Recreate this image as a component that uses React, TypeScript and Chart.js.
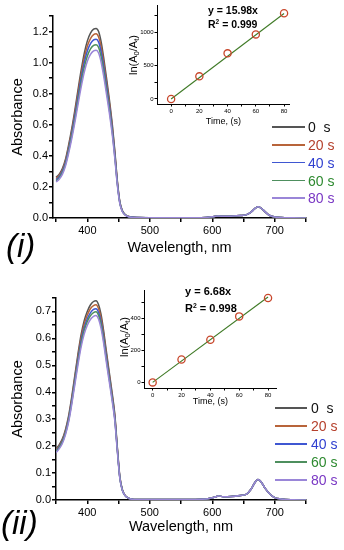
import { useEffect, useRef } from 'react';
import { Chart, registerables } from 'chart.js';

Chart.register(...registerables);

const FONT = '"Liberation Sans", Arial, Helvetica, sans-serif';
Chart.defaults.font.family = FONT;

// ---------- Spectra data ----------
const wavelength = [350, 355, 360, 365, 370, 375, 380, 385, 390, 395, 400, 405, 410, 414, 418, 422, 426, 430, 435, 440, 444, 448, 452, 456, 460, 465, 470, 480, 500, 550, 590, 603, 610, 618, 630, 645, 655, 662, 668, 673, 678, 685, 692, 700, 710, 730, 750];

const absI_0 = [0.262, 0.282, 0.318, 0.378, 0.47, 0.575, 0.695, 0.825, 0.95, 1.06, 1.14, 1.19, 1.215, 1.22, 1.2, 1.135, 1.035, 0.92, 0.77, 0.6, 0.43, 0.24, 0.105, 0.048, 0.024, 0.011, 0.006, 0.003, 0.002, 0.002, 0.004, 0.01, 0.013, 0.011, 0.012, 0.016, 0.022, 0.038, 0.06, 0.072, 0.064, 0.038, 0.016, 0.007, 0.003, 0.001, 0.0];
const absI_20 = [0.254, 0.274, 0.309, 0.367, 0.456, 0.558, 0.675, 0.801, 0.922, 1.029, 1.107, 1.155, 1.18, 1.185, 1.165, 1.102, 1.005, 0.893, 0.748, 0.583, 0.418, 0.233, 0.102, 0.047, 0.023, 0.011, 0.006, 0.003, 0.002, 0.002, 0.004, 0.01, 0.013, 0.011, 0.012, 0.016, 0.022, 0.038, 0.06, 0.072, 0.064, 0.038, 0.016, 0.007, 0.003, 0.001, 0.0];
const absI_40 = [0.247, 0.266, 0.3, 0.356, 0.443, 0.542, 0.655, 0.778, 0.896, 1.0, 1.075, 1.122, 1.146, 1.15, 1.132, 1.07, 0.976, 0.868, 0.726, 0.566, 0.405, 0.226, 0.099, 0.045, 0.023, 0.01, 0.006, 0.003, 0.002, 0.002, 0.004, 0.01, 0.013, 0.011, 0.012, 0.016, 0.022, 0.038, 0.06, 0.072, 0.064, 0.038, 0.016, 0.007, 0.003, 0.001, 0.0];
const absI_60 = [0.239, 0.258, 0.291, 0.345, 0.43, 0.526, 0.635, 0.754, 0.868, 0.969, 1.042, 1.088, 1.111, 1.115, 1.097, 1.037, 0.946, 0.841, 0.704, 0.548, 0.393, 0.219, 0.096, 0.044, 0.022, 0.01, 0.005, 0.003, 0.002, 0.002, 0.004, 0.01, 0.013, 0.011, 0.012, 0.016, 0.022, 0.038, 0.06, 0.072, 0.064, 0.038, 0.016, 0.007, 0.003, 0.001, 0.0];
const absI_80 = [0.232, 0.25, 0.281, 0.335, 0.416, 0.509, 0.615, 0.73, 0.841, 0.938, 1.009, 1.053, 1.075, 1.08, 1.062, 1.004, 0.916, 0.814, 0.681, 0.531, 0.381, 0.212, 0.093, 0.042, 0.021, 0.01, 0.005, 0.003, 0.002, 0.002, 0.004, 0.01, 0.013, 0.011, 0.012, 0.016, 0.022, 0.038, 0.06, 0.072, 0.064, 0.038, 0.016, 0.007, 0.003, 0.001, 0.0];

const absII_0 = [0.19, 0.205, 0.226, 0.26, 0.31, 0.38, 0.46, 0.54, 0.612, 0.665, 0.7, 0.724, 0.737, 0.74, 0.726, 0.69, 0.632, 0.562, 0.478, 0.395, 0.32, 0.2, 0.09, 0.04, 0.019, 0.008, 0.004, 0.002, 0.002, 0.002, 0.004, 0.01, 0.015, 0.012, 0.013, 0.017, 0.022, 0.04, 0.064, 0.076, 0.068, 0.042, 0.022, 0.009, 0.004, 0.001, 0.0];
const absII_20 = [0.186, 0.201, 0.221, 0.255, 0.304, 0.372, 0.451, 0.529, 0.6, 0.652, 0.686, 0.71, 0.722, 0.725, 0.711, 0.676, 0.619, 0.551, 0.468, 0.387, 0.314, 0.196, 0.088, 0.039, 0.019, 0.008, 0.004, 0.002, 0.002, 0.002, 0.004, 0.01, 0.015, 0.012, 0.013, 0.017, 0.022, 0.04, 0.064, 0.076, 0.068, 0.042, 0.022, 0.009, 0.004, 0.001, 0.0];
const absII_40 = [0.182, 0.197, 0.217, 0.25, 0.298, 0.365, 0.442, 0.518, 0.588, 0.638, 0.672, 0.695, 0.708, 0.71, 0.697, 0.662, 0.607, 0.54, 0.459, 0.379, 0.307, 0.192, 0.086, 0.038, 0.018, 0.008, 0.004, 0.002, 0.002, 0.002, 0.004, 0.01, 0.015, 0.012, 0.013, 0.017, 0.022, 0.04, 0.064, 0.076, 0.068, 0.042, 0.022, 0.009, 0.004, 0.001, 0.0];
const absII_60 = [0.18, 0.194, 0.214, 0.246, 0.293, 0.359, 0.435, 0.51, 0.578, 0.628, 0.662, 0.684, 0.696, 0.699, 0.686, 0.652, 0.597, 0.531, 0.452, 0.373, 0.302, 0.189, 0.085, 0.038, 0.018, 0.008, 0.004, 0.002, 0.002, 0.002, 0.004, 0.01, 0.015, 0.012, 0.013, 0.017, 0.022, 0.04, 0.064, 0.076, 0.068, 0.042, 0.022, 0.009, 0.004, 0.001, 0.0];
const absII_80 = [0.176, 0.19, 0.209, 0.241, 0.287, 0.352, 0.426, 0.5, 0.566, 0.615, 0.648, 0.67, 0.682, 0.685, 0.672, 0.638, 0.585, 0.52, 0.442, 0.365, 0.296, 0.185, 0.083, 0.037, 0.018, 0.008, 0.004, 0.002, 0.002, 0.002, 0.004, 0.01, 0.015, 0.012, 0.013, 0.017, 0.022, 0.04, 0.064, 0.076, 0.068, 0.042, 0.022, 0.009, 0.004, 0.001, 0.0];

const seriesLabels = ['0  s', '20 s', '40 s', '60 s', '80 s'];
const lineColors = ['#555555', '#b8643a', '#3f57d2', '#4e8f5e', '#9a86d8'];
const textColors = ['#111111', '#b5402c', '#3040d0', '#2e8a30', '#7a38c4'];

// ---------- Inset (kinetics) data ----------
const timeS = [0, 20, 40, 60, 80];
const lnI = [0, 338, 682, 965, 1282];
const lnII = [0, 143, 267, 413, 528];
const fitTime = [0, 80];
const fitI = [0, 1278];
const fitII = [0, 534];

// ---------- Ticks ----------
const specXTicks = [350, 400, 450, 500, 550, 600, 650, 700, 750];
const specXLabels = ['', '400', '', '500', '', '600', '', '700', ''];
const absYTicksI = [0, 0.1, 0.2, 0.3, 0.4, 0.5, 0.6, 0.7, 0.8, 0.9, 1.0, 1.1, 1.2, 1.3];
const absYLabelsI = ['0.0', '', '0.2', '', '0.4', '', '0.6', '', '0.8', '', '1.0', '', '1.2', ''];
const absYTicksII = [0, 0.05, 0.1, 0.15, 0.2, 0.25, 0.3, 0.35, 0.4, 0.45, 0.5, 0.55, 0.6, 0.65, 0.7, 0.75];
const absYLabelsII = ['0.0', '', '0.1', '', '0.2', '', '0.3', '', '0.4', '', '0.5', '', '0.6', '', '0.7', ''];
const timeTicks = [0, 10, 20, 30, 40, 50, 60, 70, 80];
const timeLabels = ['0', '', '20', '', '40', '', '60', '', '80'];
const lnTicksI = [0, 250, 500, 750, 1000, 1250];
const lnLabelsI = ['0', '', '500', '', '1000', ''];
const lnTicksII = [0, 100, 200, 300, 400, 500];
const lnLabelsII = ['0', '', '200', '', '400', ''];

type SpecCfg = {
  series: number[][];
  xMin: number; xMax: number; yMax: number;
  yTicks: number[]; yLabels: string[];
  padTop: number; padRight: number; yWidth: number; xHeight: number; yTitlePad: number;
};

function axisCommon(ticks: number[], labels: string[], fontSize: number, tickLen: number, pad: number, lw: number) {
  return {
    afterBuildTicks: (s: any) => { s.ticks = ticks.map((v) => ({ value: v })); },
    ticks: {
      autoSkip: false, maxRotation: 0, minRotation: 0, padding: pad, color: '#000',
      font: { family: FONT, size: fontSize },
      callback: (_v: any, i: number) => labels[i] ?? '',
    },
    grid: { drawOnChartArea: false, drawTicks: true, tickLength: tickLen, color: '#000', lineWidth: lw },
    border: { display: true, color: '#000', width: lw },
  };
}

function makeSpectrum(canvas: HTMLCanvasElement, c: SpecCfg) {
  return new Chart(canvas, {
    type: 'line',
    data: {
      datasets: c.series.map((ys, k) => ({
        label: seriesLabels[k],
        data: wavelength.map((w, i) => ({ x: w, y: ys[i] })),
        borderColor: lineColors[k],
        borderWidth: 1.5,
        pointRadius: 0,
        cubicInterpolationMode: 'monotone' as const,
        fill: false,
        order: c.series.length - k,
      })),
    },
    options: {
      animation: false, responsive: false, maintainAspectRatio: false, devicePixelRatio: 1, events: [],
      layout: { padding: { top: c.padTop, right: c.padRight, bottom: 0, left: 0 } },
      plugins: { legend: { display: false }, tooltip: { enabled: false } },
      scales: {
        x: {
          type: 'linear', min: c.xMin, max: c.xMax,
          ...axisCommon(specXTicks, specXLabels, 11, 4, 2, 1.5),
          title: { display: true, text: 'Wavelength, nm', color: '#000', font: { family: FONT, size: 14.5 }, padding: 0 },
          afterFit: (s: any) => { s.height = c.xHeight; },
        },
        y: {
          type: 'linear', min: 0, max: c.yMax,
          ...axisCommon(c.yTicks, c.yLabels, 11, 4, 1, 1.5),
          title: { display: true, text: 'Absorbance', color: '#000', font: { family: FONT, size: 14.5 }, padding: { top: c.yTitlePad, bottom: 0 } },
          afterFit: (s: any) => { s.width = c.yWidth; },
        },
      },
    } as any,
  });
}

type InsetCfg = {
  values: number[]; fit: number[];
  xMin: number; xMax: number; yMin: number; yMax: number;
  yTicks: number[]; yLabels: string[];
  padTop: number; yWidth: number; xHeight: number;
};

function makeInset(canvas: HTMLCanvasElement, c: InsetCfg) {
  return new Chart(canvas, {
    type: 'line',
    data: {
      datasets: [
        {
          label: 'data',
          data: timeS.map((t, i) => ({ x: t, y: c.values[i] })),
          showLine: false,
          pointRadius: 3.6,
          pointBorderWidth: 1.3,
          pointBorderColor: '#c8472c',
          pointBackgroundColor: 'rgba(255,255,255,0)',
          order: 0,
        },
        {
          label: 'fit',
          data: fitTime.map((t, i) => ({ x: t, y: c.fit[i] })),
          borderColor: '#3f7a26',
          borderWidth: 1.1,
          pointRadius: 0,
          fill: false,
          order: 1,
        },
      ],
    },
    options: {
      animation: false, responsive: false, maintainAspectRatio: false, devicePixelRatio: 1, events: [],
      layout: { padding: { top: c.padTop, right: 2, bottom: 0, left: 0 } },
      plugins: { legend: { display: false }, tooltip: { enabled: false } },
      scales: {
        x: {
          type: 'linear', min: c.xMin, max: c.xMax,
          ...axisCommon(timeTicks, timeLabels, 6, 2.5, 1.5, 1),
          title: { display: true, text: 'Time, (s)', color: '#000', font: { family: FONT, size: 9 }, padding: { top: 0, bottom: 1 } },
          afterFit: (s: any) => { s.height = c.xHeight; },
        },
        y: {
          type: 'linear', min: c.yMin, max: c.yMax,
          ...axisCommon(c.yTicks, c.yLabels, 6, 2.5, 1, 1),
          afterFit: (s: any) => { s.width = c.yWidth; },
        },
      },
    } as any,
  });
}

const abs = (left: number, top: number, extra: any = {}) => ({ position: 'absolute' as const, left, top, ...extra });

function Legend({ top, step, lineLeft, lineWidth, textLeft }: { top: number; step: number; lineLeft: number; lineWidth: number; textLeft: number }) {
  return (
    <>
      {seriesLabels.map((lab, k) => {
        const c = top + step * k;
        return (
          <div key={lab}>
            <div style={abs(lineLeft, c - 0.75, { width: lineWidth, height: 1.5, background: lineColors[k] })} />
            <div style={abs(textLeft, c - 6.8, { fontSize: 14, lineHeight: 1, color: textColors[k], whiteSpace: 'pre' })}>{lab}</div>
          </div>
        );
      })}
    </>
  );
}

function LnLabel({ cx, cy }: { cx: number; cy: number }) {
  return (
    <div style={abs(cx, cy, { transform: 'translate(-50%, -50%) rotate(-90deg)', fontSize: 11, lineHeight: 1, whiteSpace: 'nowrap', color: '#000' })}>
      ln(A<span style={{ fontSize: '0.7em', position: 'relative', top: '0.3em' }}>0</span>/A<span style={{ fontSize: '0.7em', position: 'relative', top: '0.3em' }}>t</span>)
    </div>
  );
}

function Eq({ left, c1, c2, size, slope, r2 }: { left: number; c1: number; c2: number; size: number; slope: string; r2: string }) {
  const st = { fontSize: size, lineHeight: 1, fontWeight: 'bold' as const, whiteSpace: 'pre' as const, color: '#000' };
  return (
    <>
      <div style={abs(left, c1 - 0.4865 * size, st)}>{`y = ${slope}x`}</div>
      <div style={abs(left, c2 - 0.4865 * size, st)}>
        R<span style={{ fontSize: '0.62em', position: 'relative', top: '-0.55em' }}>2</span>{` = ${r2}`}
      </div>
    </>
  );
}

export default function App() {
  const mainI = useRef<HTMLCanvasElement>(null);
  const insetI = useRef<HTMLCanvasElement>(null);
  const mainII = useRef<HTMLCanvasElement>(null);
  const insetII = useRef<HTMLCanvasElement>(null);

  useEffect(() => {
    const charts: Chart[] = [];
    charts.push(makeSpectrum(mainI.current!, {
      series: [absI_0, absI_20, absI_40, absI_60, absI_80],
      xMin: 345, xMax: 750, yMax: 1.3, yTicks: absYTicksI, yLabels: absYLabelsI,
      padTop: 16, padRight: 38, yWidth: 53, xHeight: 39, yTitlePad: 9,
    }));
    charts.push(makeSpectrum(mainII.current!, {
      series: [absII_0, absII_20, absII_40, absII_60, absII_80],
      xMin: 350, xMax: 750, yMax: 0.75, yTicks: absYTicksII, yLabels: absYLabelsII,
      padTop: 18, padRight: 38, yWidth: 56, xHeight: 36, yTitlePad: 9,
    }));
    charts.push(makeInset(insetI.current!, {
      values: lnI, fit: fitI, xMin: -10, xMax: 84, yMin: -75, yMax: 1400,
      yTicks: lnTicksI, yLabels: lnLabelsI, padTop: 5, yWidth: 27, xHeight: 24,
    }));
    charts.push(makeInset(insetII.current!, {
      values: lnII, fit: fitII, xMin: -6, xMax: 86, yMin: -35, yMax: 578,
      yTicks: lnTicksII, yLabels: lnLabelsII, padTop: 10, yWidth: 26, xHeight: 20,
    }));
    return () => charts.forEach((c) => c.destroy());
  }, []);

  return (
    <div style={{ position: 'absolute', left: 0, top: 0, width: 344, height: 550, background: '#fff', fontFamily: FONT, overflow: 'hidden' }}>
      <canvas ref={mainI} width={344} height={257} style={abs(0, 0, { width: 344, height: 257 })} />
      <canvas ref={mainII} width={344} height={256} style={abs(0, 280, { width: 344, height: 256 })} />
      <canvas ref={insetI} width={165} height={128} style={abs(130, 0, { width: 165, height: 128 })} />
      <canvas ref={insetII} width={164} height={128} style={abs(118, 280, { width: 164, height: 128 })} />

      <LnLabel cx={133} cy={55} />
      <LnLabel cx={124} cy={337} />

      <Eq left={208} c1={10} c2={24} size={10.5} slope="15.98" r2="0.999" />
      <Eq left={185} c1={291} c2={308} size={11} slope="6.68" r2="0.998" />

      <Legend top={127} step={17.8} lineLeft={272} lineWidth={33} textLeft={308} />
      <Legend top={408} step={18} lineLeft={275} lineWidth={32} textLeft={311} />

      <div style={abs(6, 229, { fontSize: 33, fontStyle: 'italic', lineHeight: 1, color: '#000' })}>(i)</div>
      <div style={abs(1, 506, { fontSize: 33, fontStyle: 'italic', lineHeight: 1, color: '#000' })}>(ii)</div>
    </div>
  );
}
